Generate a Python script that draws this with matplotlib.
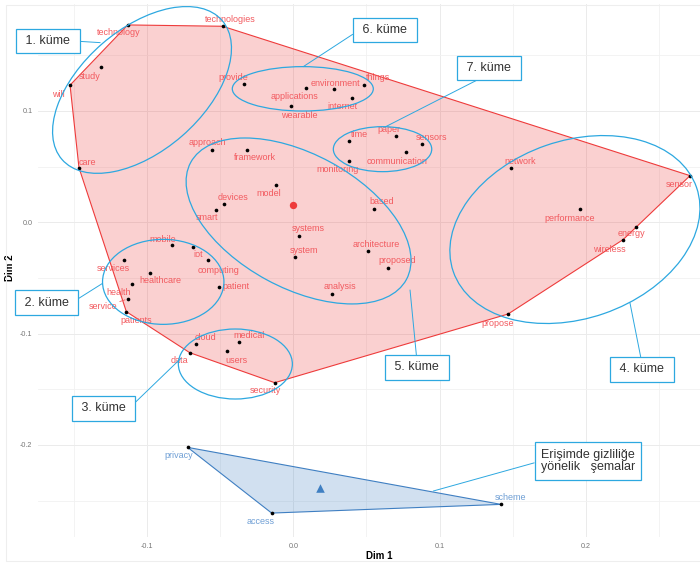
import matplotlib
matplotlib.use("Agg")
import matplotlib.pyplot as plt
import numpy as np
from matplotlib.patches import Ellipse, Polygon, Rectangle
from matplotlib.ticker import FormatStrFormatter
from matplotlib.transforms import IdentityTransform, ScaledTranslation

plt.rcParams["font.family"] = ["Liberation Sans", "DejaVu Sans"]
plt.rcParams["axes.unicode_minus"] = False

# terms of the large cluster (Dim 1, Dim 2)
words_main = [
    "technology", "technologies", "study", "will", "care",
    "provide", "applications", "environment", "things", "internet", "wearable",
    "time", "paper", "sensors", "communication", "monitoring",
    "approach", "framework", "model", "devices", "smart",
    "based", "systems", "system", "architecture", "proposed", "analysis",
    "network", "sensor", "performance", "energy", "wireless", "propose",
    "mobile", "iot", "services", "computing", "healthcare", "health",
    "patient", "service", "patients",
    "cloud", "data", "medical", "users", "security",
]
dim1_main = [
    -0.1132, -0.0483, -0.1314, -0.1526, -0.1465,
    -0.0335, 0.0087, 0.0278, 0.0485, 0.0399, -0.0018,
    0.0383, 0.0700, 0.0882, 0.0773, 0.0383,
    -0.0556, -0.0319, -0.0116, -0.0471, -0.0526,
    0.0549, 0.0041, 0.0012, 0.0511, 0.0649, 0.0265,
    0.1486, 0.2712, 0.1962, 0.2343, 0.2254, 0.1468,
    -0.0831, -0.0684, -0.1159, -0.0585, -0.0980, -0.1103,
    -0.0510, -0.1132, -0.1141,
    -0.0667, -0.0708, -0.0373, -0.0453, -0.0127,
]
dim2_main = [
    0.1773, 0.1761, 0.1395, 0.1232, 0.0491,
    0.1240, 0.1207, 0.1195, 0.1234, 0.1117, 0.1045,
    0.0728, 0.0778, 0.0706, 0.0629, 0.0553,
    0.0650, 0.0650, 0.0332, 0.0164, 0.0111,
    0.0122, -0.0123, -0.0312, -0.0258, -0.0408, -0.0644,
    0.0488, 0.0419, 0.0117, -0.0040, -0.0156, -0.0824,
    -0.0204, -0.0225, -0.0336, -0.0341, -0.0453, -0.0554,
    -0.0584, -0.0689, -0.0803,
    -0.1093, -0.1171, -0.1075, -0.1159, -0.1441,
]

# terms of the privacy cluster
words_priv = ["privacy", "access", "scheme"]
dim1_priv = [-0.0722, -0.0148, 0.1420]
dim2_priv = [-0.2022, -0.2612, -0.2534]

# callout captions and the data point each leader line touches
callout_text = [
    "1. küme", "6. küme", "7. küme", "2. küme",
    "3. küme", "5. küme", "4. küme", "Erişimde gizliliğe\nyönelik   şemalar",
]
callout_x = [-0.1320, 0.0068, 0.0627, -0.1303, -0.0768, 0.0798, 0.2301, 0.0957]
callout_y = [0.1614, 0.1398, 0.0856, -0.0548, -0.1222, -0.0608, -0.0722, -0.2414]

# ---- layout -----------------------------------------------------------
RED = "#EE3B3B"
RED_TXT = "#F25A5F"
BLUE = "#3F7FC2"
BLUE_TXT = "#6F9FD5"
CYAN = "#2DA8E0"

# label offsets from their point, in pixels
label_off = {
    "technology": (-9, -8), "technologies": (8, 7), "study": (-11, -9),
    "will": (-12, -9), "care": (8, 5), "provide": (-11, 7),
    "applications": (-12, -9), "environment": (1, 6), "things": (14, 7),
    "internet": (-9, -9), "wearable": (9, -10), "time": (10, 7),
    "paper": (-7, 6), "sensors": (9, 6), "communication": (-9, -9),
    "monitoring": (-12, -9), "approach": (-5, 7), "framework": (8, -8),
    "model": (-8, -8), "devices": (9, 7), "smart": (-9, -8),
    "based": (8, 7), "systems": (9, 7), "system": (9, 7),
    "architecture": (8, 7), "proposed": (9, 7), "analysis": (8, 7),
    "network": (9, 6), "sensor": (-11, -9), "performance": (-11, -9),
    "energy": (-5, -7), "wireless": (-14, -10), "propose": (-10, -9),
    "mobile": (-9, 6), "iot": (5, -7), "services": (-10, -9),
    "computing": (11, -10), "healthcare": (10, -8), "health": (-13, -9),
    "patient": (17, 1), "service": (-25, -8), "patients": (10, -9),
    "cloud": (10, 6), "data": (-10, -8), "medical": (10, 6),
    "users": (9, -9), "security": (-9, -8),
    "privacy": (-9, -8), "access": (-11, -8), "scheme": (9, 7),
}

# hand-drawn group rings: centre (data), semi-axes (px), angle (deg)
rings = [
    (-0.1034, 0.1189, 106, 61, 41),
    (0.0065, 0.1199, 70.5, 22.2, 0),
    (0.0610, 0.0657, 49.2, 22.5, 0),
    (0.0036, 0.0012, 122.7, 66.9, -28.5),
    (-0.0889, -0.0535, 60.7, 42.5, 0),
    (-0.0396, -0.1273, 57, 35, 0),
    (0.1925, -0.0065, 128.7, 88.9, 19.1),
]

# callout box centres in figure pixels, and where the leader leaves the box
box_xy = [(48, 523), (385, 534), (489, 496), (46.5, 261.5),
          (103.5, 155.7), (417, 196.5), (642, 194.5), (588, 103)]
box_rel = [(1, 0.5), (0, 0.5), (0.5, 0), (1, 0.5),
           (1, 0.5), (0.5, 1), (0.5, 1), (0, 0.5)]


def convex_hull(x, y):
    pts = sorted(zip(x, y))

    def cross(o, a, b):
        return (a[0] - o[0]) * (b[1] - o[1]) - (a[1] - o[1]) * (b[0] - o[0])

    lower, upper = [], []
    for p in pts:
        while len(lower) >= 2 and cross(lower[-2], lower[-1], p) <= 0:
            lower.pop()
        lower.append(p)
    for p in reversed(pts):
        while len(upper) >= 2 and cross(upper[-2], upper[-1], p) <= 0:
            upper.pop()
        upper.append(p)
    return np.array(lower[:-1] + upper[:-1])


fig = plt.figure(figsize=(7, 5.64), dpi=100)
ax = fig.add_axes([38 / 700, 1 - 537 / 564, 662 / 700, 533 / 564])
ax.set_xlim(-0.1745, 0.278)
ax.set_ylim(-0.2827, 0.1961)

# faint outer frame
fig.patches.append(Rectangle((6, 3), 700, 556, transform=IdentityTransform(),
                             fill=False, ec="#EEEEEE", lw=0.8))

for words, xs, ys, col, txt_col, mk in [
    (words_main, dim1_main, dim2_main, RED, RED_TXT, "o"),
    (words_priv, dim1_priv, dim2_priv, BLUE, BLUE_TXT, "^"),
]:
    hull = convex_hull(xs, ys)
    ax.add_patch(Polygon(hull, closed=True, fc=col, alpha=0.24, ec="none", zorder=1))
    ax.add_patch(Polygon(hull, closed=True, fill=False, ec=col, lw=0.8, zorder=1.5))
    ax.scatter(xs, ys, s=7, color="black", zorder=4, linewidths=0)
    ax.scatter([np.mean(xs)], [np.mean(ys)], s=28 if mk == "o" else 38,
               marker=mk, color=col, zorder=4, linewidths=0)
    for w, x, y in zip(words, xs, ys):
        dx, dy = label_off[w]
        arrow = None
        if w == "service":
            arrow = dict(arrowstyle="-", color=RED_TXT, lw=0.6, shrinkA=0, shrinkB=2)
        ax.annotate(w, (x, y), xytext=(dx, dy), textcoords="offset pixels",
                    ha="center", va="center", fontsize=6.5, color=txt_col,
                    arrowprops=arrow, zorder=5)

for cx, cy, a, b, ang in rings:
    place = IdentityTransform() + ScaledTranslation(cx, cy, ax.transData)
    ax.add_patch(Ellipse((0, 0), 2 * a, 2 * b, angle=ang, transform=place,
                         fill=False, ec=CYAN, lw=0.9, zorder=6))

for txt, x, y, bxy, rel in zip(callout_text, callout_x, callout_y, box_xy, box_rel):
    multi = "\n" in txt
    ax.annotate(txt if multi else f" {txt} ", (x, y), xycoords="data",
                xytext=bxy, textcoords="figure pixels",
                ha="center", va="center", ma="left", fontsize=9,
                linespacing=1.1, color="#333333",
                bbox=dict(boxstyle="square,pad=0.5", fc="white", ec=CYAN, lw=0.9),
                arrowprops=dict(arrowstyle="-", color=CYAN, lw=0.7,
                                relpos=rel, shrinkA=0, shrinkB=0),
                annotation_clip=False, zorder=7)

ax.set_xticks([-0.1, 0.0, 0.1, 0.2])
ax.set_xticks([-0.15, -0.05, 0.05, 0.15, 0.25], minor=True)
ax.set_yticks([-0.2, -0.1, 0.0, 0.1])
ax.set_yticks([-0.25, -0.15, -0.05, 0.05, 0.15], minor=True)
ax.xaxis.set_major_formatter(FormatStrFormatter("%.1f"))
ax.yaxis.set_major_formatter(FormatStrFormatter("%.1f"))
ax.grid(which="major", color="#EBEBEB", lw=0.7)
ax.grid(which="minor", color="#F1F1F1", lw=0.6)
ax.set_axisbelow(True)
ax.tick_params(which="both", length=0, labelsize=5.2, labelcolor="#777777", pad=4)
for s in ax.spines.values():
    s.set_visible(False)

ax.set_xlabel("Dim 1", fontsize=7, fontweight="bold")
ax.set_ylabel("Dim 2", fontsize=7, fontweight="bold")
ax.xaxis.set_label_coords((379 - 38) / 662, -14 / 533)
ax.yaxis.set_label_coords(-23 / 662, (537 - 268) / 533)

fig.savefig("out.png", dpi=100)
